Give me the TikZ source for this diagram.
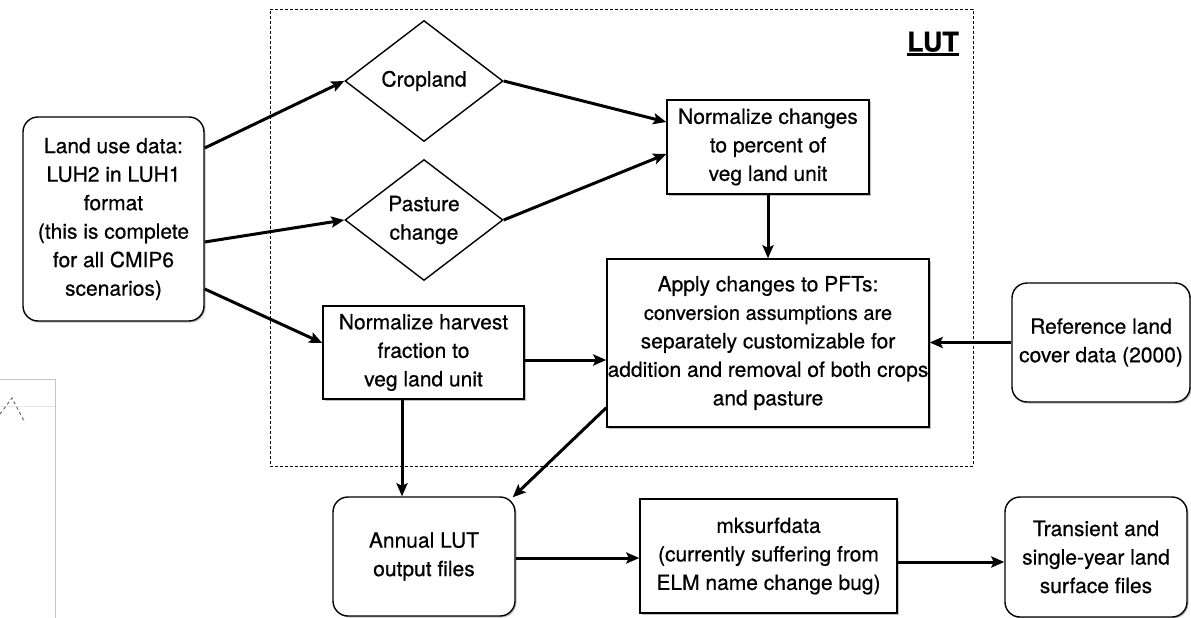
\documentclass[tikz,border=0pt]{standalone}
\usepackage{fontspec}
\setmainfont{TeX Gyre Heros}[FakeBold=0.6]
\usetikzlibrary{arrows.meta,shapes.geometric,shadows,calc}
\begin{document}
\begin{tikzpicture}[x=1pt,y=-1pt,
  font=\fontsize{21}{28.5}\selectfont,
  every node/.style={inner sep=0pt},
  boxshadow/.style={drop shadow={shadow xshift=1.5pt,shadow yshift=-1.5pt,opacity=0.25,fill=black}},
  box/.style={draw,line width=1.4pt,align=center,fill=white,boxshadow},
  rbox/.style={box,rounded corners=15pt},
  diam/.style={draw,diamond,line width=1.4pt,fill=white,minimum width=158pt,minimum height=121pt},
  arr/.style={line width=3pt,-{Stealth[length=13pt,width=11pt,inset=2.5pt]}},
  frame/.style={draw,dash pattern=on 3pt off 2pt,line width=0.9pt,minimum width=703pt,minimum height=457pt}
]
\useasboundingbox (0,0) rectangle (1191,618);

% partial window edge at the lower left
\draw[gray!45,line width=1pt] (0,379) -- (55,379) -- (55,618);
\draw[gray!20,line width=0.8pt] (0,406) -- (55,406);
\draw[gray!70!black,dashed,dash pattern=on 3pt off 3pt,line width=0.9pt] (0,414) -- (12,398) -- (25,423);

% LUT group frame
\node[frame] (lutframe) at (621.5,237.5) {};
\node[anchor=base] (lutlabel) at (933,51.5) {\fontsize{27}{30}\selectfont\bfseries LUT};
\draw[line width=2.6pt] ($(lutlabel.base west)+(0,3)$) -- ($(lutlabel.base east)+(0,3)$);

% nodes
\node[rbox,minimum width=181pt,minimum height=204pt] (land) at (113.5,219)
  {Land use data:\\LUH2 in LUH1\\format\\(this is complete\\for all CMIP6\\scenarios)};
\node[diam,label={[align=center]center:Cropland}] (crop) at (424,81) {};
\node[diam,label={[align=center]center:{Pasture\\change}}] (past) at (424,220) {};
\node[box,minimum width=202pt,minimum height=94pt] (normc) at (768,147)
  {Normalize changes\\to percent of\\veg land unit};
\node[box,minimum width=201pt,minimum height=93pt] (harv) at (423.5,352.5)
  {Normalize harvest\\fraction to\\veg land unit};
\node[box,minimum width=322pt,minimum height=168pt] (apply) at (768,343)
  {Apply changes to PFTs:\\\fontsize{20}{27}\selectfont conversion assumptions are\\separately customizable for\\addition and removal of both crops\\and pasture};
\node[rbox,minimum width=178pt,minimum height=119pt] (ref) at (1101,342.5)
  {Reference land\\cover data (2000)};
\node[rbox,minimum width=182pt,minimum height=119pt] (annual) at (424,556.5)
  {Annual LUT\\output files};
\node[box,minimum width=257pt,minimum height=114pt] (mksurf) at (768.5,556)
  {mksurfdata\\(currently suffering from\\ELM name change bug)};
\node[rbox,minimum width=182pt,minimum height=120pt] (trans) at (1096,557)
  {Transient and\\single-year land\\surface files};

% connectors
\draw[arr] ([yshift=71pt]land.east) -- (crop.west);
\draw[arr] ([yshift=-23pt]land.east) -- (past.west);
\draw[arr] ([yshift=-70pt]land.east) -- ([yshift=9.5pt]harv.west);
\draw[arr] (crop.east) -- ([yshift=25pt]normc.west);
\draw[arr] (past.east) -- ([yshift=-7pt]normc.west);
\draw[arr] (normc.south) -- (apply.north);
\draw[arr] ([yshift=-7.5pt]harv.east) -- ([yshift=-7.5pt]harv.east -| apply.west);
\draw[arr] (ref.west) -- (ref.west -| apply.east);
\draw[arr] ([xshift=-21.5pt]harv.south) -- ([xshift=-21.5pt]harv.south |- annual.north);
\draw[arr] ([yshift=20pt]apply.south west) -- ([xshift=-3pt,yshift=-1pt]annual.north east);
\draw[arr] ([yshift=-1.5pt]annual.east) -- ([yshift=-1.5pt]annual.east -| mksurf.west);
\draw[arr] ([yshift=-6pt]mksurf.east) -- ([yshift=-6pt]mksurf.east -| trans.west);
\end{tikzpicture}
\end{document}
